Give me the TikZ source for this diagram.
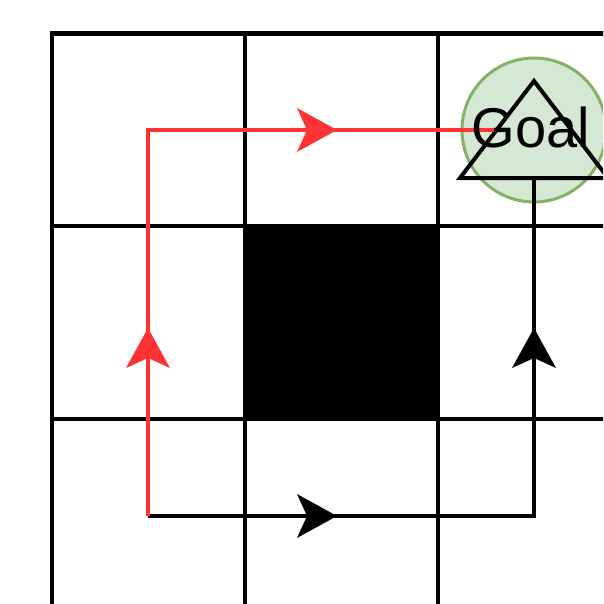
\documentclass[tikz,border=0pt]{standalone}
\usepackage{fontspec}
\setmainfont{Liberation Sans}
\usetikzlibrary{arrows.meta}
\definecolor{pathred}{HTML}{FF3333}
\definecolor{goalfill}{HTML}{D5E8D4}
\definecolor{goalstroke}{HTML}{82B366}
\begin{document}
\begin{tikzpicture}[x=1pt,y=-1pt,
  gridline/.style={line width=4.5pt, draw=black},
  walk/.style={line width=4.5pt},
  headed/.style={walk, -{Stealth[length=40pt,width=44pt,inset=10pt,line width=0pt]}},
  goalmark/.style={circle, draw=goalstroke, fill=goalfill, line width=3pt,
    minimum size=144pt, inner sep=0pt}]
  \useasboundingbox (0,0) rectangle (603,604);
  \clip (0,0) rectangle (603,604);

  % grid of cells with the blocked cell in the middle
  \fill[black] (245,226) rectangle (438,419);
  \draw[gridline] (52,33.5) rectangle (631,612);
  \foreach \x in {245,438} \draw[gridline] (\x,33.5) -- (\x,612);
  \foreach \y in {226,419} \draw[gridline] (52,\y) -- (631,\y);

  % goal cell
  \node[goalmark] (goal) at (534,130) {};
  \coordinate (apex) at (534,81);
  \coordinate (baseL) at (460,178);
  \coordinate (baseR) at (608,178);
  \coordinate (baseM) at (534,178);
  \draw[line width=4pt, line join=miter] (apex) -- (baseL) -- (baseR) -- cycle;

  % path points
  \coordinate (start) at (148,516);
  \coordinate (redturn) at (148,130);
  \coordinate (redend) at (498,130);
  \coordinate (blackturn) at (534,516);
  \coordinate (redtipA) at (148,328);
  \coordinate (redtipB) at (337,130);
  \coordinate (blacktipA) at (337,516);
  \coordinate (blacktipB) at (534,328);

  % route along the bottom and right side
  \draw[walk, black] (start) -- (blackturn) -- (baseM);
  \draw[headed, black] (start) -- (blacktipA);
  \draw[headed, black] (blackturn) -- (blacktipB);

  % route along the left side and the top
  \draw[walk, pathred] (start) -- (redturn) -- (redend);
  \draw[headed, pathred] (start) -- (redtipA);
  \draw[headed, pathred] (redturn) -- (redtipB);

  \node[anchor=base, font=\fontsize{56}{60}\selectfont, inner sep=0pt] (goallabel) at (531,147) {Goal};
\end{tikzpicture}
\end{document}
